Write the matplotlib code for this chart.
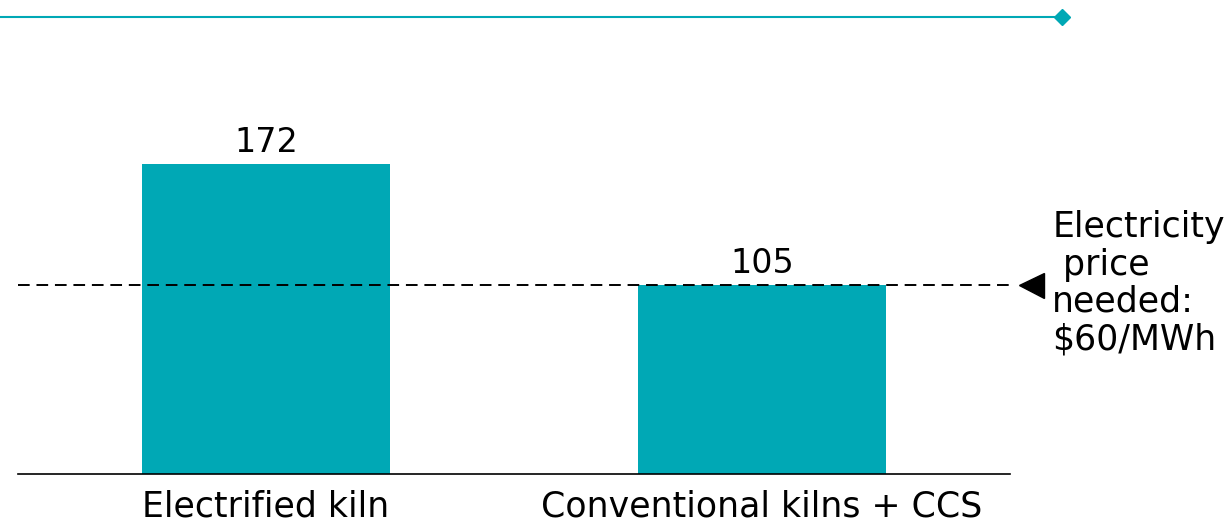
import matplotlib.pyplot as plt
from matplotlib.lines import Line2D

# data
categories = ['Electrified kiln', 'Conventional kilns + CCS']
values = [172, 105]
threshold = 105
note = 'Electricity\n price\nneeded:\n$60/MWh'

teal = '#00A8B5'

fig = plt.figure(figsize=(12.29, 5.27), dpi=100)
ax = fig.add_axes([18 / 1229, 53 / 527, 992 / 1229, 360 / 527])

x = range(len(categories))
bars = ax.bar(x, values, width=0.5, color=teal)
for xi, v in zip(x, values):
    ax.text(xi, v + 3, str(v), ha='center', va='bottom', fontsize=24)

# dashed reference line with left-pointing marker and note
ax.axhline(threshold, color='black', lw=1.4, ls=(0, (6, 3.5)), zorder=3)
ax.plot([1.543], [threshold], marker='<', color='black', markersize=18, clip_on=False)
ax.text(1.585, threshold + 1, note, ha='left', va='center', fontsize=25,
        linespacing=1.12, clip_on=False)

ax.set_xlim(-0.5, 1.5)
ax.set_ylim(0, 200)
ax.set_xticks(list(x))
ax.set_xticklabels(categories, fontsize=25)
ax.tick_params(axis='x', length=0, pad=11)
ax.set_yticks([])
for s in ['top', 'right', 'left']:
    ax.spines[s].set_visible(False)
ax.spines['bottom'].set_color('black')
ax.spines['bottom'].set_linewidth(1.2)

# decorative header line with diamond end
fig.add_artist(Line2D([0, 1062 / 1229], [1 - 17 / 527] * 2, color=teal, lw=1.5,
                      transform=fig.transFigure))
fig.add_artist(Line2D([1062 / 1229], [1 - 17 / 527], marker='D', markersize=8,
                      color=teal, transform=fig.transFigure))

fig.savefig('out.png', dpi=100)
